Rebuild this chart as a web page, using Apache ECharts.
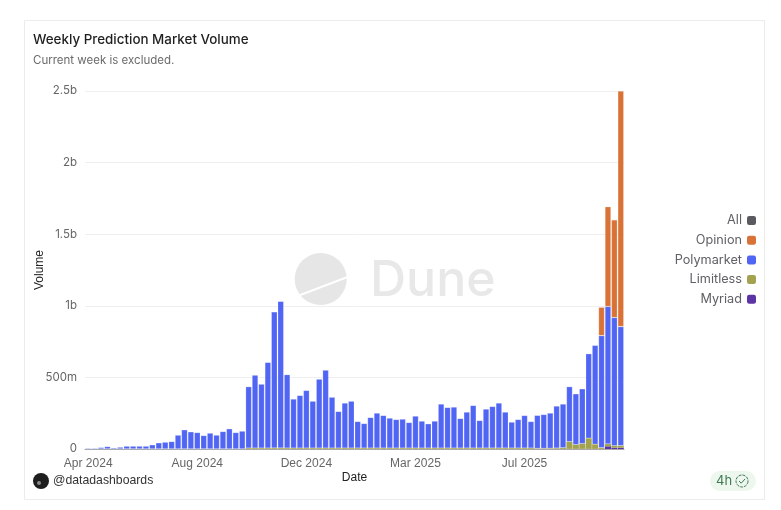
<!DOCTYPE html>
<html>
<head>
<meta charset="utf-8">
<title>Weekly Prediction Market Volume</title>
<script src="https://cdn.jsdelivr.net/npm/echarts@6/dist/echarts.min.js"></script>
<style>
  html, body { margin: 0; padding: 0; background: #fff; }
  #main { width: 781px; height: 510px; }
</style>
</head>
<body>
<div id="main"></div>
<script>
// weeks, starting monday
const weeks = [
  '2024-04-08', '2024-04-15', '2024-04-22', '2024-04-29', '2024-05-06', '2024-05-13', '2024-05-20',
  '2024-05-27', '2024-06-03', '2024-06-10', '2024-06-17', '2024-06-24', '2024-07-01', '2024-07-08',
  '2024-07-15', '2024-07-22', '2024-07-29', '2024-08-05', '2024-08-12', '2024-08-19', '2024-08-26',
  '2024-09-02', '2024-09-09', '2024-09-16', '2024-09-23', '2024-09-30', '2024-10-07', '2024-10-14',
  '2024-10-21', '2024-10-28', '2024-11-04', '2024-11-11', '2024-11-18', '2024-11-25', '2024-12-02',
  '2024-12-09', '2024-12-16', '2024-12-23', '2024-12-30', '2025-01-06', '2025-01-13', '2025-01-20',
  '2025-01-27', '2025-02-03', '2025-02-10', '2025-02-17', '2025-02-24', '2025-03-03', '2025-03-10',
  '2025-03-17', '2025-03-24', '2025-03-31', '2025-04-07', '2025-04-14', '2025-04-21', '2025-04-28',
  '2025-05-05', '2025-05-12', '2025-05-19', '2025-05-26', '2025-06-02', '2025-06-09', '2025-06-16',
  '2025-06-23', '2025-06-30', '2025-07-07', '2025-07-14', '2025-07-21', '2025-07-28', '2025-08-04',
  '2025-08-11', '2025-08-18', '2025-08-25', '2025-09-01', '2025-09-08', '2025-09-15', '2025-09-22',
  '2025-09-29', '2025-10-06', '2025-10-13', '2025-10-20', '2025-10-27', '2025-11-03', '2025-11-10'
];

// volumes in millions
const polymarket = [
  7, 7, 12, 18, 9, 14, 21, 21, 21, 21, 30, 44, 49, 53, 98, 135, 121, 116, 95, 112, 98,
  123, 142, 116, 126, 430, 511, 448, 600, 952, 1026, 514, 344, 369, 404, 329, 483, 546,
  357, 257, 316, 329, 187, 173, 215, 246, 229, 211, 201, 204, 180, 225, 190, 171, 190,
  309, 285, 288, 208, 253, 299, 194, 274, 292, 316, 253, 183, 201, 229, 187, 232, 238,
  247, 295, 307, 385, 356, 384, 591, 692, 783, 960, 895, 832
];
const opinion = [
  0, 0, 0, 0, 0, 0, 0, 0, 0, 0, 0, 0, 0, 0, 0, 0, 0, 0, 0, 0, 0,
  0, 0, 0, 0, 0, 0, 0, 0, 0, 0, 0, 0, 0, 0, 0, 0, 0, 0, 0, 0, 0,
  0, 0, 0, 0, 0, 0, 0, 0, 0, 0, 0, 0, 0, 0, 0, 0, 0, 0, 0, 0, 0,
  0, 0, 0, 0, 0, 0, 0, 0, 0, 0, 0, 0, 0, 0, 0, 0, 0, 198, 697, 682, 1645
];
const limitless = [
  0, 0, 0, 0, 0, 0, 0, 0, 0, 0, 0, 0, 0, 0, 0, 0, 0, 0, 0, 0, 0,
  0, 0, 0, 0, 6, 6, 6, 6, 6, 6, 6, 6, 6, 6, 6, 6, 6, 6, 6, 6, 6,
  6, 6, 6, 6, 6, 6, 6, 6, 6, 6, 6, 6, 6, 6, 6, 6, 6, 6, 6, 6, 6,
  6, 6, 6, 6, 6, 6, 6, 3, 3, 4, 5, 7, 50, 29, 36, 74, 32, 8, 16, 14, 14
];
const myriad = [
  0, 0, 0, 0, 0, 0, 0, 0, 0, 0, 0, 0, 0, 0, 0, 0, 0, 0, 0, 0, 0,
  0, 0, 0, 0, 0, 0, 0, 0, 0, 0, 0, 0, 0, 0, 0, 0, 0, 0, 0, 0, 0,
  0, 0, 0, 0, 0, 0, 0, 0, 0, 0, 0, 0, 0, 0, 0, 0, 0, 0, 0, 0, 0,
  0, 0, 0, 0, 0, 0, 0, 1, 1, 1, 1, 1, 1, 1, 1, 1, 1, 1, 19, 9, 9
];

const legendNames = ['All', 'Opinion', 'Polymarket', 'Limitless', 'Myriad'];
const monthNames = ['Jan', 'Feb', 'Mar', 'Apr', 'May', 'Jun', 'Jul', 'Aug', 'Sep', 'Oct', 'Nov', 'Dec'];

const uiFont = 'Inter';
const axisFont = '"Liberation Sans"';

function barSeries(name, data, color, border) {
  return {
    name: name,
    type: 'bar',
    stack: 'volume',
    data: data,
    barCategoryGap: '6%',
    itemStyle: { color: color, borderColor: 'rgba(255,255,255,0.35)', borderWidth: border },
    emphasis: { disabled: true }
  };
}

const chart = echarts.init(document.getElementById('main'), null, { renderer: 'canvas' });

chart.setOption({
  animation: false,
  backgroundColor: '#fff',
  title: {
    text: 'Weekly Prediction Market Volume',
    subtext: 'Current week is excluded.',
    left: 28,
    top: 28,
    itemGap: 9,
    textStyle: { fontFamily: uiFont, fontSize: 13.4, fontWeight: 500, color: '#1f1f1f' },
    subtextStyle: { fontFamily: uiFont, fontSize: 11.5, color: '#6b6b6b' }
  },
  legend: {
    orient: 'vertical',
    right: 20,
    top: 209,
    align: 'right',
    icon: 'roundRect',
    itemWidth: 9,
    itemHeight: 9,
    itemGap: 6.7,
    selectedMode: false,
    data: legendNames,
    itemStyle: { borderWidth: 0 },
    textStyle: { fontFamily: uiFont, fontSize: 12.7, color: '#606066', padding: [0, 0, 0, 0] }
  },
  grid: { left: 85, top: 91, width: 539, height: 358, containLabel: false },
  xAxis: {
    type: 'category',
    data: weeks,
    name: 'Date',
    nameLocation: 'middle',
    nameGap: 23,
    nameMoveOverlap: false,
    nameTextStyle: { fontFamily: axisFont, fontSize: 12, color: '#222' },
    axisTick: { show: false },
    axisLine: { lineStyle: { color: '#a8a8a8' } },
    axisLabel: {
      interval: 16,
      margin: 9,
      hideOverlap: false,
      fontFamily: axisFont,
      fontSize: 12,
      color: '#666',
      formatter: function (v) {
        const p = v.split('-');
        return monthNames[+p[1] - 1] + ' ' + p[0];
      }
    }
  },
  yAxis: {
    type: 'value',
    min: 0,
    max: 2500,
    interval: 500,
    name: 'Volume',
    nameLocation: 'middle',
    nameGap: 39,
    nameMoveOverlap: false,
    nameTextStyle: { fontFamily: axisFont, fontSize: 12, color: '#222' },
    axisLine: { show: false },
    axisTick: { show: false },
    splitLine: { lineStyle: { color: '#efefef' } },
    axisLabel: {
      margin: 8,
      fontFamily: uiFont,
      fontSize: 11.5,
      color: '#666',
      formatter: function (v) {
        if (v === 0) return '0';
        return v >= 1000 ? v / 1000 + 'b' : v + 'm';
      }
    }
  },
  series: [
    barSeries('All', [], '#5a5a60', 0),
    barSeries('Myriad', myriad, '#5b35a5', 0),
    barSeries('Limitless', limitless, '#a3a24f', 0),
    barSeries('Polymarket', polymarket, '#5065f4', 0.6),
    barSeries('Opinion', opinion, '#d97236', 0.6)
  ],
  graphic: [
    // card outline
    { type: 'rect', z: -10, shape: { x: 24.5, y: 20.5, width: 740, height: 479 }, style: { fill: '#fff', stroke: '#ececec', lineWidth: 1 } },
    // watermark
    { type: 'circle', z: -5, shape: { cx: 320.7, cy: 279, r: 26 }, style: { fill: '#e6e6e6' } },
    { type: 'line', z: -4, shape: { x1: 299, y1: 295.5, x2: 350, y2: 276 }, style: { stroke: '#fff', lineWidth: 2 } },
    { type: 'text', z: -5, x: 370, y: 281, style: { text: 'Dune', fontFamily: uiFont, fontSize: 50, fontWeight: 500, fill: '#e8e8e8', verticalAlign: 'middle' } },
    // footer author
    { type: 'circle', shape: { cx: 41, cy: 481, r: 8 }, style: { fill: '#1e1e1e' } },
    { type: 'circle', shape: { cx: 39, cy: 483, r: 2 }, style: { fill: '#8a8a8a' } },
    { type: 'text', x: 53, y: 481, style: { text: '@datadashboards', fontFamily: axisFont, fontSize: 12.25, fill: '#333', verticalAlign: 'middle' } },
    // freshness badge
    { type: 'rect', shape: { x: 710, y: 471, width: 46, height: 20, r: 10 }, style: { fill: '#edf7ee' } },
    { type: 'text', x: 716, y: 481, style: { text: '4h', fontFamily: uiFont, fontSize: 13, fill: '#3f7a55', verticalAlign: 'middle' } },
    { type: 'circle', shape: { cx: 742, cy: 481, r: 6 }, style: { fill: 'none', stroke: '#3f7a55', lineWidth: 1, lineDash: [3, 1] } },
    { type: 'polyline', shape: { points: [[739, 481], [741.2, 483.2], [745, 479]] }, style: { fill: 'none', stroke: '#3f7a55', lineWidth: 1 } }
  ]
});
</script>
</body>
</html>
